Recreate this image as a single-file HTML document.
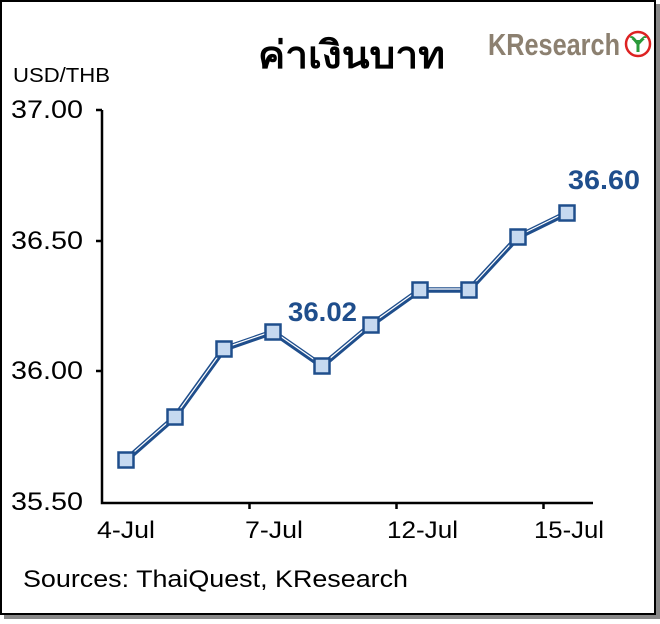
<!DOCTYPE html>
<html><head><meta charset="utf-8"><style>
body{margin:0;background:#fff}
</style></head><body>
<svg width="660" height="619" xmlns="http://www.w3.org/2000/svg" font-family="Liberation Sans, Arial, sans-serif">
<rect x="0" y="0" width="660" height="619" fill="#fff"/>
<rect x="1" y="1" width="654" height="613" fill="none" stroke="#000" stroke-width="2"/>
<rect x="656" y="4" width="4" height="615" fill="#888"/>
<rect x="4" y="615" width="656" height="4" fill="#888"/>
<text x="258" y="68" font-size="38" font-weight="bold" textLength="187" lengthAdjust="spacingAndGlyphs" font-family="Liberation Sans, Noto Sans CJK SC, sans-serif">ค่าเงินบาท</text>
<text x="488" y="55" font-size="31" font-weight="bold" fill="#8c8070" textLength="132" lengthAdjust="spacingAndGlyphs">KResearch</text>
<circle cx="638" cy="44" r="12" fill="#fff" stroke="#d22" stroke-width="2.5"/>
<path d="M638 52 L638 40 M638 44 Q632 36 631 38 M638 44 Q645 36 645 38" stroke="#2a9a3a" stroke-width="3" fill="none"/>
<text x="13" y="82" font-size="20" textLength="97" lengthAdjust="spacingAndGlyphs">USD/THB</text>
<g font-size="25" text-anchor="end">
<text x="83" y="118" textLength="72" lengthAdjust="spacingAndGlyphs">37.00</text>
<text x="83" y="249" textLength="72" lengthAdjust="spacingAndGlyphs">36.50</text>
<text x="83" y="379" textLength="72" lengthAdjust="spacingAndGlyphs">36.00</text>
<text x="83" y="510" textLength="72" lengthAdjust="spacingAndGlyphs">35.50</text>
</g>
<g stroke="#000" stroke-width="2.5" fill="none">
<path d="M102 110 V503 H593"/>
<path d="M96 110H102 M96 241H102 M96 371H102"/>
<path d="M249.5 502V509 M396.5 502V509 M543.5 502V509"/>
</g>
<g font-size="24">
<text x="97" y="538" textLength="58" lengthAdjust="spacingAndGlyphs">4-Jul</text>
<text x="245" y="538" textLength="58" lengthAdjust="spacingAndGlyphs">7-Jul</text>
<text x="387" y="538" textLength="71" lengthAdjust="spacingAndGlyphs">12-Jul</text>
<text x="534" y="538" textLength="70" lengthAdjust="spacingAndGlyphs">15-Jul</text>
</g>
<polyline points="126,460 175,417 224,349 273,332 322,366 371,325 420,290 469,290 518,237 567,213" fill="none" stroke="#1f4e8c" stroke-width="5.5" stroke-linejoin="round"/>
<polyline points="126,459 175,416 224,348 273,331 322,365 371,324 420,289 469,289 518,236 567,212" fill="none" stroke="#fff" stroke-width="1.2" stroke-linejoin="round"/>
<g fill="#c6d9f0" stroke="#1f4e8c" stroke-width="2.5">
<rect x="118.5" y="452.5" width="15" height="15"/>
<rect x="167.5" y="409.5" width="15" height="15"/>
<rect x="216.5" y="341.5" width="15" height="15"/>
<rect x="265.5" y="324.5" width="15" height="15"/>
<rect x="314.5" y="358.5" width="15" height="15"/>
<rect x="363.5" y="317.5" width="15" height="15"/>
<rect x="412.5" y="282.5" width="15" height="15"/>
<rect x="461.5" y="282.5" width="15" height="15"/>
<rect x="510.5" y="229.5" width="15" height="15"/>
<rect x="559.5" y="205.5" width="15" height="15"/>
</g>
<text x="288" y="321" font-size="27" font-weight="bold" fill="#1f4e8c" textLength="69" lengthAdjust="spacingAndGlyphs">36.02</text>
<text x="568" y="189" font-size="27" font-weight="bold" fill="#1f4e8c" textLength="72" lengthAdjust="spacingAndGlyphs">36.60</text>
<text x="23" y="587" font-size="24" textLength="385" lengthAdjust="spacingAndGlyphs">Sources: ThaiQuest, KResearch</text>
</svg>
</body></html>
